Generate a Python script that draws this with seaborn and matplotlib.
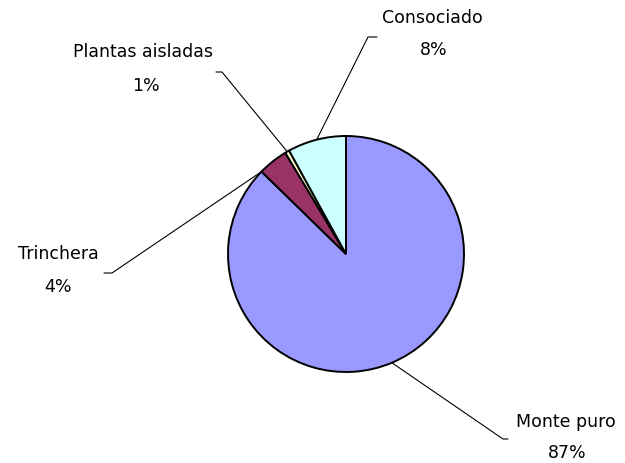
import numpy as np
import matplotlib
matplotlib.use("Agg")
import matplotlib.pyplot as plt
import seaborn as sns

# slice data, clockwise from 12 o'clock
categories = ["Monte puro", "Trinchera", "Plantas aisladas", "Consociado"]
shares = [87.3, 4.1, 0.6, 8.0]
colors = ["#9999FF", "#993366", "#FFFFCC", "#CCFFFF"]

# where each leader line touches the wedge (0 = start edge, 1 = end edge)
anchor_frac = [0.5, 1.0, 0.5, 0.5]
# label layout in pixels (name centre, percent centre, elbow, tail end)
name_px = [(566, 422), (58, 254), (143, 52), (432, 18)]
pct_px = [(567, 453), (58, 287), (146, 86), (434, 50)]
elbow_px = [(503, 439), (112, 273), (222, 72), (368, 37)]
tail_px = [(508, 439), (104, 273), (216, 72), (377, 37)]

W, H = 625, 463
CX, CY, R = 346, 254, 118


def px(p):
    """Pixel position -> data coords (pie radius = 1)."""
    return (p[0] - CX) / R, (CY - p[1]) / R


sns.set_theme(style="white")
plt.rcParams["font.family"] = ["DejaVu Sans"]

fig = plt.figure(figsize=(W / 100, H / 100), dpi=100)
ax = fig.add_axes([0, 0, 1, 1])
wedges, _ = ax.pie(shares, colors=colors, startangle=90, counterclock=False,
                   radius=1, center=(0, 0),
                   wedgeprops=dict(edgecolor="black", linewidth=1.4))
ax.set_xlim(-CX / R, (W - CX) / R)
ax.set_ylim((CY - H) / R, CY / R)
ax.set_aspect("equal")
ax.axis("off")

for i, w in enumerate(wedges):
    ang = np.deg2rad(w.theta1 + anchor_frac[i] * (w.theta2 - w.theta1))
    start = (np.cos(ang), np.sin(ang))
    e, t = px(elbow_px[i]), px(tail_px[i])
    ax.plot([start[0], e[0], t[0]], [start[1], e[1], t[1]],
            color="black", lw=0.8, zorder=0)
    nx, ny = px(name_px[i])
    ax.text(nx, ny, categories[i], ha="center", va="center", fontsize=12.5,
            color="black")
    qx, qy = px(pct_px[i])
    ax.text(qx, qy, f"{shares[i]:.0f}%", ha="center", va="center",
            fontsize=12.5, color="black")

fig.savefig("out.png", dpi=100)
